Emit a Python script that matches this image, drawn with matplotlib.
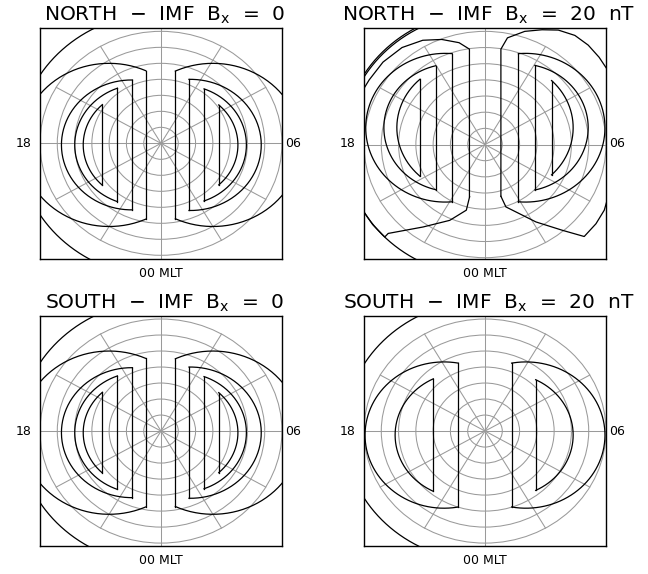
import numpy as np
import matplotlib
matplotlib.use("Agg")
import matplotlib.pyplot as plt
from matplotlib.patches import Circle

plt.rcParams["mathtext.default"] = "regular"

# polar grid (rings every 5 deg of colatitude -> 1 unit, spokes every 2 h MLT)
RINGS = [1, 2, 3, 4, 5, 6, 7]
SPOKES_DEG = [30, 60, 120, 150, 210, 240, 300, 330]

TITLES = ["NORTH  $-$  IMF  B$_x$  =  0", "NORTH  $-$  IMF  B$_x$  =  20  nT",
          "SOUTH  $-$  IMF  B$_x$  =  0", "SOUTH  $-$  IMF  B$_x$  =  20  nT"]

# D-shaped contours: (x of straight side, arc centre x, arc centre y, arc radius)
D_NORTH_0 = [(0.83, 3.0, -0.1, 5.1), (1.62, 1.7, -0.1, 4.1),
             (2.49, 1.21, -0.1, 3.73), (3.34, 1.08, -0.1, 3.37),
             (-0.88, -3.0, -0.1, 5.1), (-1.65, -1.7, -0.1, 4.06),
             (-2.52, -1.21, -0.1, 3.78), (-3.39, -1.08, -0.1, 3.42)]
D_NORTH_20 = [(1.93, 2.34, 1.04, 4.6), (2.89, 2.02, 1.04, 3.95),
              (3.85, 1.07, 1.04, 4.03),
              (-1.9, -2.3, 1.04, 4.6), (-2.85, -1.9, 1.04, 3.95),
              (-3.76, -1.07, 1.04, 4.03)]
D_SOUTH_0 = D_NORTH_0
D_SOUTH_20 = [(1.54, 2.37, -0.25, 4.57), (2.93, 1.26, -0.25, 3.84),
              (-1.54, -2.37, -0.25, 4.57), (-2.99, -1.3, -0.25, 3.9)]

# corner arcs on the dusk side: (centre x, centre y, radius, theta1, theta2)
ARC_NORTH_0 = [(0.0, -0.1, 8.25, 100, 260)]
ARC_NORTH_20 = [(0.0, 0.0, 8.15, 100, 260), (0.0, 0.06, 8.2, 100, 180)]
ARC_SOUTH_0 = ARC_NORTH_0
ARC_SOUTH_20 = [(0.0, 0.0, 8.15, 100, 260)]

# open contours of the Bx = 20 nT north panel (x, y)
OPEN_N20_DAWN_X = [0.92, 0.92, 1.3, 2.3, 3.3, 4.24, 5.2, 5.97, 6.6, 7.1]
OPEN_N20_DAWN_Y = [-3.2, 5.9, 6.6, 7.0, 7.1, 7.08, 6.75, 6.15, 5.4, 4.6]
OPEN_N20_DAWN2_X = [0.92, 1.21, 2.95, 4.49, 5.74, 6.42, 6.9, 7.05]
OPEN_N20_DAWN2_Y = [-3.2, -3.86, -4.79, -5.31, -5.69, -4.9, -4.06, -3.5]
OPEN_N20_DUSK_X = [-0.9, -0.9, -1.5, -2.5, -3.6, -4.8, -5.9, -6.7, -7.1]
OPEN_N20_DUSK_Y = [-3.23, 5.9, 6.3, 6.5, 6.45, 6.0, 5.1, 4.0, 3.3]
OPEN_N20_DUSK2_X = [-0.89, -1.08, -2.04, -3.58, -5.6, -5.8, -6.5, -7.05]
OPEN_N20_DUSK2_Y = [-3.23, -4.06, -4.69, -5.1, -5.5, -5.72, -4.95, -4.1]

PANELS = [
    (D_NORTH_0, ARC_NORTH_0, [], (-7.25, 7.19)),
    (D_NORTH_20, ARC_NORTH_20,
     [(OPEN_N20_DAWN_X, OPEN_N20_DAWN_Y), (OPEN_N20_DAWN2_X, OPEN_N20_DAWN2_Y),
      (OPEN_N20_DUSK_X, OPEN_N20_DUSK_Y), (OPEN_N20_DUSK2_X, OPEN_N20_DUSK2_Y)],
     (-7.1, 7.19)),
    (D_SOUTH_0, ARC_SOUTH_0, [], (-7.2, 7.17)),
    (D_SOUTH_20, ARC_SOUTH_20, [], (-7.2, 7.17)),
]

W, H = 648, 574
BOXES = [(40, 28.3, 242, 231), (364, 28.3, 242, 231),
         (40, 316.3, 242, 230), (364, 316.3, 242, 230)]

GRID = "#9a9a9a"
LW = 0.9


def arc(ax, cx, cy, r, t1, t2):
    t = np.radians(np.linspace(t1, t2, 200))
    ax.plot(cx + r * np.cos(t), cy + r * np.sin(t), color="k", lw=LW)


def draw_d(ax, xv, cx, cy, r):
    c = (xv - cx) / r
    t = np.degrees(np.arccos(c))
    h = r * np.sqrt(1 - c * c)
    if xv > 0:
        arc(ax, cx, cy, r, -t, t)
    else:
        arc(ax, cx, cy, r, t, 360 - t)
    ax.plot([xv, xv], [cy - h, cy + h], color="k", lw=LW)


def panel(ax, title, dlist, arcs, opens, ylim):
    for r in RINGS:
        ax.add_patch(Circle((0, 0), r, fill=False, ec=GRID, lw=0.75))
    for a in SPOKES_DEG:
        ax.plot([0, 7 * np.cos(np.radians(a))], [0, 7 * np.sin(np.radians(a))],
                color=GRID, lw=0.75)
    ax.axhline(0, color=GRID, lw=0.75)
    ax.axvline(0, color=GRID, lw=0.75)
    for d in dlist:
        draw_d(ax, *d)
    for a in arcs:
        arc(ax, *a)
    for xs, ys in opens:
        ax.plot(xs, ys, color="k", lw=LW)
    ax.set_xlim(-7, 7)
    ax.set_ylim(*ylim)
    ax.set_xticks([])
    ax.set_yticks([])
    for s in ax.spines.values():
        s.set_linewidth(1.0)
    ax.text(0.515, 1.012, title, transform=ax.transAxes, ha="center",
            va="bottom", fontsize=14.5)
    ax.text(-0.033, 0.5, "18", transform=ax.transAxes, ha="right", va="center",
            fontsize=9)
    ax.text(1.012, 0.5, "06", transform=ax.transAxes, ha="left", va="center",
            fontsize=9)
    ax.text(0.5, -0.035, "00 MLT", transform=ax.transAxes, ha="center",
            va="top", fontsize=9)


fig = plt.figure(figsize=(W / 100, H / 100), dpi=100)
for (x, y, w, h), title, (dl, ar, op, yl) in zip(BOXES, TITLES, PANELS):
    ax = fig.add_axes([x / W, 1 - (y + h) / H, w / W, h / H])
    panel(ax, title, dl, ar, op, yl)

fig.savefig("out.png", dpi=100)
